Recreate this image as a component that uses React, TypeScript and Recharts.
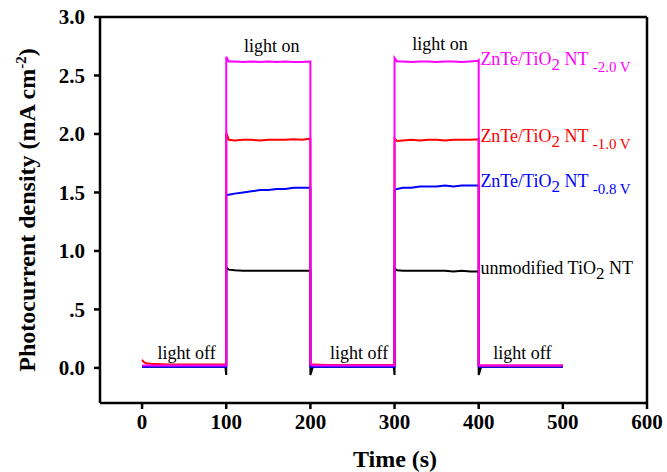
import { LineChart, Line, XAxis, YAxis, ReferenceLine, ReferenceDot } from "recharts"

// sample times; repeated times draw the light on/off steps
const times = [
  0, 2, 5, 10, 30, 60, 99, 100, 100,
  103, 110, 120, 130, 140, 150, 160, 170, 180, 190, 199, 200, 200,
  203, 220, 250, 280, 299, 300, 300,
  303, 310, 320, 330, 340, 350, 360, 370, 380, 390, 399, 400, 400,
  403, 430, 460, 500,
]

const unmodified = [
  0.01, 0.01, 0.01, 0.01, 0.01, 0.01, 0.01, -0.06, 0.86,
  0.84, 0.835, 0.83, 0.83, 0.83, 0.83, 0.83, 0.83, 0.83, 0.83, 0.83, 0.83, -0.06,
  0.01, 0.01, 0.01, 0.01, 0.01, -0.06, 0.85,
  0.835, 0.83, 0.83, 0.83, 0.83, 0.83, 0.83, 0.825, 0.83, 0.825, 0.825, 0.825, -0.06,
  0.01, 0.01, 0.01, 0.01,
]

const minus08 = [
  0.01, 0.01, 0.01, 0.01, 0.01, 0.01, 0.01, 0.01, 1.48,
  1.48, 1.49, 1.5, 1.51, 1.52, 1.52, 1.53, 1.53, 1.54, 1.54, 1.54, 1.54, 0.01,
  0.01, 0.01, 0.01, 0.01, 0.01, 0.01, 1.52,
  1.53, 1.54, 1.54, 1.55, 1.55, 1.55, 1.56, 1.55, 1.56, 1.56, 1.56, 1.56, 0.01,
  0.01, 0.01, 0.01, 0.01,
]

const minus10 = [
  0.07, 0.05, 0.04, 0.035, 0.03, 0.03, 0.03, 0.03, 2.01,
  1.95, 1.945, 1.95, 1.95, 1.945, 1.95, 1.95, 1.95, 1.955, 1.95, 1.96, 1.96, 0.03,
  0.03, 0.025, 0.025, 0.025, 0.025, 0.025, 1.96,
  1.94, 1.945, 1.95, 1.945, 1.95, 1.95, 1.945, 1.95, 1.95, 1.95, 1.955, 1.96, 0.02,
  0.02, 0.02, 0.02, 0.02,
]

const minus20 = [
  0.02, 0.02, 0.02, 0.02, 0.02, 0.02, 0.02, 0.02, 2.66,
  2.62, 2.62, 2.615, 2.62, 2.615, 2.62, 2.615, 2.62, 2.615, 2.615, 2.62, 2.62, 0.03,
  0.02, 0.02, 0.02, 0.02, 0.02, 0.02, 2.65,
  2.62, 2.62, 2.615, 2.62, 2.62, 2.615, 2.62, 2.62, 2.615, 2.62, 2.625, 2.63, 0.02,
  0.02, 0.02, 0.02, 0.02,
]

const xTicks = [0, 100, 200, 300, 400, 500, 600]
const yTicks = [0, 0.5, 1.0, 1.5, 2.0, 2.5, 3.0]

const toPoints = (vals: number[]) => times.map((t, i) => ({ t, v: vals[i] }))

const serif = "'Liberation Serif', 'Times New Roman', serif"

const yFmt = (v: number) => (v === 0.5 ? ".5" : v.toFixed(1))

function note(text: string, color: string, anchor: string, sub?: string, tail?: string, subBig?: string) {
  return (props: any) => {
    const { x, y } = props.viewBox
    return (
      <text x={x} y={y} fill={color} fontFamily={serif} fontSize={18} textAnchor={anchor}>
        {text}
        {subBig !== undefined && (
          <>
            <tspan dy={5} fontSize={17}>{subBig}</tspan>
            <tspan dy={-5}>{tail}</tspan>
          </>
        )}
        {sub !== undefined && (
          <tspan dy={7} fontSize={15}>{sub}</tspan>
        )}
      </text>
    )
  }
}

export default function App() {
  return (
    <div style={{ position: "absolute", left: 0, top: 0, background: "#fff" }}>
      <LineChart width={667} height={472} margin={{ top: 17, right: 20, bottom: 0, left: 0 }}>
        <XAxis
          dataKey="t"
          type="number"
          domain={[-50, 600]}
          ticks={xTicks}
          allowDataOverflow
          height={69}
          stroke="#000"
          strokeWidth={2.5}
          tickSize={6}
          tickMargin={5}
          tick={{ fill: "#000", fontFamily: serif, fontSize: 21, fontWeight: "bold" }}
          label={{
            content: () => (
              <text x={395} y={467} textAnchor="middle" fontFamily={serif} fontSize={24} fontWeight="bold" fill="#000">
                Time (s)
              </text>
            ),
          }}
        />
        <YAxis
          type="number"
          domain={[-0.3, 3.0]}
          ticks={yTicks}
          allowDataOverflow
          width={100}
          stroke="#000"
          strokeWidth={2.5}
          tickSize={6}
          tickMargin={9}
          tickFormatter={yFmt}
          tick={{ fill: "#000", fontFamily: serif, fontSize: 21, fontWeight: "bold" }}
          label={{
            content: () => (
              <text
                x={35}
                y={210}
                transform="rotate(-90 35 210)"
                textAnchor="middle"
                fontFamily={serif}
                fontSize={24}
                fontWeight="bold"
                fill="#000"
              >
                Photocurrent density (mA cm
                <tspan dy={-9} fontSize={15}>-2</tspan>
                <tspan dy={9}>)</tspan>
              </text>
            ),
          }}
        />
        <ReferenceLine y={3.0} stroke="#000" strokeWidth={2.5} />
        <ReferenceLine x={600} stroke="#000" strokeWidth={2.5} />

        <Line data={toPoints(unmodified)} dataKey="v" type="linear" stroke="#000" strokeWidth={2} dot={false} isAnimationActive={false} />
        <Line data={toPoints(minus08)} dataKey="v" type="linear" stroke="#0000ff" strokeWidth={2} dot={false} isAnimationActive={false} />
        <Line data={toPoints(minus10)} dataKey="v" type="linear" stroke="#ff0000" strokeWidth={2} dot={false} isAnimationActive={false} />
        <Line data={toPoints(minus20)} dataKey="v" type="linear" stroke="#ff00ff" strokeWidth={2} dot={false} isAnimationActive={false} />

        <ReferenceDot x={154} y={2.7} r={0} stroke="none" label={note("light on", "#000", "middle")} />
        <ReferenceDot x={354} y={2.72} r={0} stroke="none" label={note("light on", "#000", "middle")} />
        <ReferenceDot x={53} y={0.077} r={0} stroke="none" label={note("light off", "#000", "middle")} />
        <ReferenceDot x={258} y={0.077} r={0} stroke="none" label={note("light off", "#000", "middle")} />
        <ReferenceDot x={452} y={0.077} r={0} stroke="none" label={note("light off", "#000", "middle")} />

        <ReferenceDot x={402} y={2.588} r={0} stroke="none" label={note("ZnTe/TiO", "#ff00ff", "start", "-2.0 V", " NT ", "2")} />
        <ReferenceDot x={402} y={1.93} r={0} stroke="none" label={note("ZnTe/TiO", "#ff0000", "start", "-1.0 V", " NT ", "2")} />
        <ReferenceDot x={402} y={1.543} r={0} stroke="none" label={note("ZnTe/TiO", "#0000ff", "start", "-0.8 V", " NT ", "2")} />
        <ReferenceDot x={402} y={0.806} r={0} stroke="none" label={note("unmodified TiO", "#000", "start", undefined, " NT", "2")} />
      </LineChart>
    </div>
  )
}
